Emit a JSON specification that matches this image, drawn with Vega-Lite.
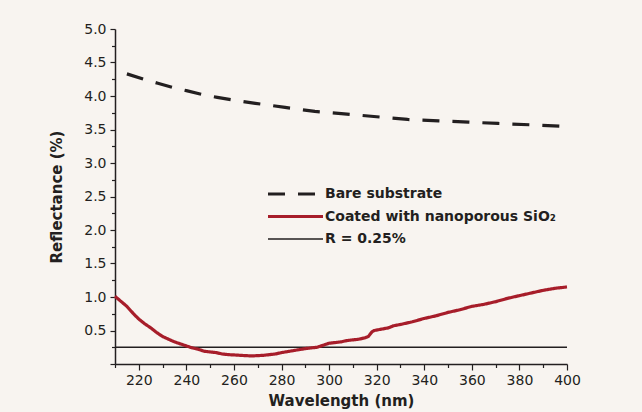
{
  "$schema": "https://vega.github.io/schema/vega-lite/v6.json",
  "width": 452,
  "height": 335,
  "autosize": {"type": "none"},
  "padding": {"left": 115, "top": 29, "right": 75, "bottom": 48},
  "background": "#f8f4f0",
  "config": {
    "view": {"stroke": null},
    "font": "DejaVu Sans",
    "axis": {"grid": false, "domainColor": "#231f20", "domainWidth": 1.5, "tickColor": "#231f20", "tickWidth": 1.2, "labelColor": "#231f20", "labelFont": "DejaVu Sans", "labelFontSize": 14, "titleColor": "#231f20", "titleFont": "DejaVu Sans", "titleFontSize": 15, "titleFontWeight": "bold"},
    "legend": {"orient": "none", "legendX": 151, "legendY": 156, "padding": 0, "symbolType": "stroke", "symbolSize": 3025, "clipHeight": 18, "rowPadding": 4.5, "labelFont": "DejaVu Sans", "labelFontSize": 14, "labelFontWeight": "bold", "labelColor": "#231f20", "labelOffset": 0, "labelLimit": 400}
  },
  "data": {"values": [
    {"series": "Bare substrate", "wl": 215, "r": 4.33},
    {"series": "Bare substrate", "wl": 222, "r": 4.25},
    {"series": "Bare substrate", "wl": 228, "r": 4.19},
    {"series": "Bare substrate", "wl": 235, "r": 4.12},
    {"series": "Bare substrate", "wl": 240, "r": 4.08},
    {"series": "Bare substrate", "wl": 247, "r": 4.02},
    {"series": "Bare substrate", "wl": 253, "r": 3.98},
    {"series": "Bare substrate", "wl": 258, "r": 3.95},
    {"series": "Bare substrate", "wl": 269, "r": 3.89},
    {"series": "Bare substrate", "wl": 281.5, "r": 3.83},
    {"series": "Bare substrate", "wl": 294, "r": 3.77},
    {"series": "Bare substrate", "wl": 307.5, "r": 3.73},
    {"series": "Bare substrate", "wl": 320, "r": 3.69},
    {"series": "Bare substrate", "wl": 333, "r": 3.65},
    {"series": "Bare substrate", "wl": 346, "r": 3.63},
    {"series": "Bare substrate", "wl": 358.6, "r": 3.61},
    {"series": "Bare substrate", "wl": 371, "r": 3.59},
    {"series": "Bare substrate", "wl": 384.6, "r": 3.57},
    {"series": "Bare substrate", "wl": 397, "r": 3.55},
    {"series": "Bare substrate", "wl": 400, "r": 3.54},
    {"series": "R = 0.25%", "wl": 210, "r": 0.25},
    {"series": "R = 0.25%", "wl": 400, "r": 0.25},
    {"series": "Coated with nanoporous SiO₂", "wl": 210, "r": 1.01},
    {"series": "Coated with nanoporous SiO₂", "wl": 212, "r": 0.95},
    {"series": "Coated with nanoporous SiO₂", "wl": 215, "r": 0.86},
    {"series": "Coated with nanoporous SiO₂", "wl": 217.5, "r": 0.76},
    {"series": "Coated with nanoporous SiO₂", "wl": 220, "r": 0.67},
    {"series": "Coated with nanoporous SiO₂", "wl": 222.5, "r": 0.6},
    {"series": "Coated with nanoporous SiO₂", "wl": 225, "r": 0.54},
    {"series": "Coated with nanoporous SiO₂", "wl": 227.5, "r": 0.47},
    {"series": "Coated with nanoporous SiO₂", "wl": 230, "r": 0.41},
    {"series": "Coated with nanoporous SiO₂", "wl": 232.5, "r": 0.37},
    {"series": "Coated with nanoporous SiO₂", "wl": 235, "r": 0.33},
    {"series": "Coated with nanoporous SiO₂", "wl": 237.5, "r": 0.3},
    {"series": "Coated with nanoporous SiO₂", "wl": 240, "r": 0.27},
    {"series": "Coated with nanoporous SiO₂", "wl": 242.5, "r": 0.24},
    {"series": "Coated with nanoporous SiO₂", "wl": 245, "r": 0.22},
    {"series": "Coated with nanoporous SiO₂", "wl": 247.5, "r": 0.19},
    {"series": "Coated with nanoporous SiO₂", "wl": 250, "r": 0.18},
    {"series": "Coated with nanoporous SiO₂", "wl": 252.5, "r": 0.17},
    {"series": "Coated with nanoporous SiO₂", "wl": 255, "r": 0.15},
    {"series": "Coated with nanoporous SiO₂", "wl": 257.5, "r": 0.14},
    {"series": "Coated with nanoporous SiO₂", "wl": 260, "r": 0.135},
    {"series": "Coated with nanoporous SiO₂", "wl": 262.5, "r": 0.13},
    {"series": "Coated with nanoporous SiO₂", "wl": 265, "r": 0.125},
    {"series": "Coated with nanoporous SiO₂", "wl": 267.5, "r": 0.12},
    {"series": "Coated with nanoporous SiO₂", "wl": 270, "r": 0.125},
    {"series": "Coated with nanoporous SiO₂", "wl": 272.5, "r": 0.13},
    {"series": "Coated with nanoporous SiO₂", "wl": 275, "r": 0.14},
    {"series": "Coated with nanoporous SiO₂", "wl": 277.5, "r": 0.15},
    {"series": "Coated with nanoporous SiO₂", "wl": 280, "r": 0.17},
    {"series": "Coated with nanoporous SiO₂", "wl": 282.5, "r": 0.185},
    {"series": "Coated with nanoporous SiO₂", "wl": 285, "r": 0.2},
    {"series": "Coated with nanoporous SiO₂", "wl": 287.5, "r": 0.215},
    {"series": "Coated with nanoporous SiO₂", "wl": 290, "r": 0.23},
    {"series": "Coated with nanoporous SiO₂", "wl": 292.5, "r": 0.24},
    {"series": "Coated with nanoporous SiO₂", "wl": 295, "r": 0.25},
    {"series": "Coated with nanoporous SiO₂", "wl": 297.5, "r": 0.28},
    {"series": "Coated with nanoporous SiO₂", "wl": 300, "r": 0.31},
    {"series": "Coated with nanoporous SiO₂", "wl": 302.5, "r": 0.32},
    {"series": "Coated with nanoporous SiO₂", "wl": 305, "r": 0.33},
    {"series": "Coated with nanoporous SiO₂", "wl": 307.5, "r": 0.35},
    {"series": "Coated with nanoporous SiO₂", "wl": 310, "r": 0.36},
    {"series": "Coated with nanoporous SiO₂", "wl": 312.5, "r": 0.37},
    {"series": "Coated with nanoporous SiO₂", "wl": 315, "r": 0.39},
    {"series": "Coated with nanoporous SiO₂", "wl": 316.5, "r": 0.41},
    {"series": "Coated with nanoporous SiO₂", "wl": 318, "r": 0.48},
    {"series": "Coated with nanoporous SiO₂", "wl": 319, "r": 0.5},
    {"series": "Coated with nanoporous SiO₂", "wl": 322, "r": 0.52},
    {"series": "Coated with nanoporous SiO₂", "wl": 325, "r": 0.54},
    {"series": "Coated with nanoporous SiO₂", "wl": 327, "r": 0.57},
    {"series": "Coated with nanoporous SiO₂", "wl": 330, "r": 0.59},
    {"series": "Coated with nanoporous SiO₂", "wl": 335, "r": 0.63},
    {"series": "Coated with nanoporous SiO₂", "wl": 340, "r": 0.68},
    {"series": "Coated with nanoporous SiO₂", "wl": 345, "r": 0.72},
    {"series": "Coated with nanoporous SiO₂", "wl": 350, "r": 0.77},
    {"series": "Coated with nanoporous SiO₂", "wl": 355, "r": 0.81},
    {"series": "Coated with nanoporous SiO₂", "wl": 360, "r": 0.86},
    {"series": "Coated with nanoporous SiO₂", "wl": 365, "r": 0.89},
    {"series": "Coated with nanoporous SiO₂", "wl": 370, "r": 0.93},
    {"series": "Coated with nanoporous SiO₂", "wl": 375, "r": 0.98},
    {"series": "Coated with nanoporous SiO₂", "wl": 380, "r": 1.02},
    {"series": "Coated with nanoporous SiO₂", "wl": 385, "r": 1.06},
    {"series": "Coated with nanoporous SiO₂", "wl": 390, "r": 1.1},
    {"series": "Coated with nanoporous SiO₂", "wl": 395, "r": 1.13},
    {"series": "Coated with nanoporous SiO₂", "wl": 400, "r": 1.15}
  ]},
  "mark": {"type": "line", "strokeCap": "butt", "strokeJoin": "round"},
  "encoding": {
    "x": {"field": "wl", "type": "quantitative", "scale": {"domain": [210, 400], "nice": false, "zero": false},
      "axis": {"title": "Wavelength (nm)", "values": [210, 220, 230, 240, 250, 260, 270, 280, 290, 300, 310, 320, 330, 340, 350, 360, 370, 380, 390, 400],
        "labelExpr": "datum.value % 20 === 0 && datum.value > 210 ? datum.label : ''",
        "tickSize": {"condition": {"test": "datum.value % 20 === 0", "value": 6}, "value": 3.5},
        "labelPadding": 3, "titlePadding": 6, "labelFlush": false, "labelOverlap": false}},
    "y": {"field": "r", "type": "quantitative", "scale": {"domain": [0, 5], "nice": false},
      "axis": {"title": "Reflectance (%)", "values": [0, 0.25, 0.5, 0.75, 1, 1.25, 1.5, 1.75, 2, 2.25, 2.5, 2.75, 3, 3.25, 3.5, 3.75, 4, 4.25, 4.5, 4.75, 5],
        "labelExpr": "datum.value % 0.5 === 0 && datum.value > 0 ? format(datum.value, '.1f') : ''",
        "tickSize": {"condition": {"test": "datum.value % 0.5 === 0", "value": 5}, "value": 3.5},
        "labelPadding": 4, "titlePadding": 19, "labelFlush": false, "labelOverlap": false}},
    "color": {"field": "series", "type": "nominal",
      "legend": {"title": null, "encode": {"symbols": {"update": {"strokeWidth": {"signal": "(datum.value === 'R = 0.25%' ? 1.4 : 3.2)"}}}}},
      "scale": {"domain": ["Bare substrate", "Coated with nanoporous SiO₂", "R = 0.25%"], "range": ["#231f20", "#a71d2a", "#231f20"]}},
    "strokeDash": {"field": "series", "type": "nominal", "legend": {"title": null}, "scale": {"domain": ["Bare substrate", "Coated with nanoporous SiO₂", "R = 0.25%"], "range": [[17, 13], [1, 0], [1, 0]]}},
    "strokeWidth": {"condition": {"test": "datum.series === 'R = 0.25%'", "value": 1.4}, "value": 3.2}
  }
}
